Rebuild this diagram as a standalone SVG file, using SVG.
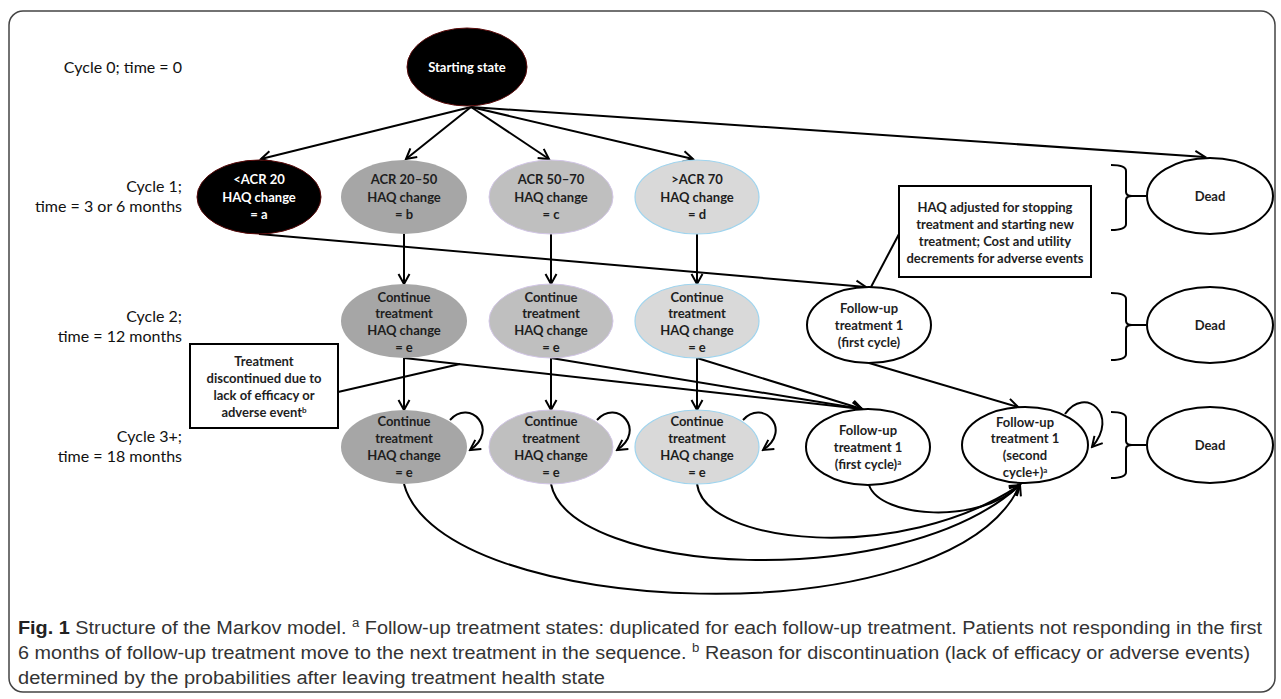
<svg xmlns="http://www.w3.org/2000/svg" width="1281" height="699" viewBox="0 0 1281 699">
<defs>
<marker id="arr" markerUnits="userSpaceOnUse" markerWidth="14" markerHeight="14" refX="12" refY="7" orient="auto">
<path d="M2,1.5 L12,7 L2,12.5" fill="none" stroke="#000" stroke-width="2"/>
</marker>
<style>
.lbl{font-family:Lato,'Liberation Sans',sans-serif;font-size:16px;fill:#111;text-anchor:end}
.t{font-family:Lato,'Liberation Sans',sans-serif;font-size:13px;font-weight:bold;text-anchor:middle;fill:#1e1e1e}
.w{fill:#fff}
.c{fill:none;stroke:#000;stroke-width:2}
.a{marker-end:url(#arr)}
.n0{fill:#000;stroke:#5a0a0a;stroke-width:1}
.n1{fill:#a6a6a6}
.n2{fill:#bfbfbf;stroke:#d2c6e6;stroke-width:1}
.n3{fill:#d9d9d9;stroke:#9fd4ee;stroke-width:1.2}
.nw{fill:#fff;stroke:#000;stroke-width:2}
.box{fill:#fff;stroke:#000;stroke-width:2}
.cap{font-family:'Liberation Sans Narrow','Liberation Sans',sans-serif;font-size:18px;fill:#333}
.sup{font-size:8px}
</style>
</defs>
<rect width="1281" height="699" fill="#fff"/>
<rect x="9" y="11" width="1266" height="681" rx="14" fill="none" stroke="#444" stroke-width="1.5"/>

<g id="row-labels">
<text class="lbl" x="182" y="73">Cycle 0; time = 0</text>
<text class="lbl" x="182" y="192">Cycle 1;</text>
<text class="lbl" x="182" y="212">time = 3 or 6 months</text>
<text class="lbl" x="182" y="322">Cycle 2;</text>
<text class="lbl" x="182" y="342">time = 12 months</text>
<text class="lbl" x="182" y="442">Cycle 3+;</text>
<text class="lbl" x="182" y="462">time = 18 months</text>
</g>

<g id="connectors">
<line class="c a" x1="471" y1="107" x2="261" y2="159"/>
<line class="c a" x1="471" y1="107" x2="406" y2="159"/>
<line class="c a" x1="471" y1="107" x2="549" y2="159"/>
<line class="c a" x1="471" y1="107" x2="693" y2="159"/>
<line class="c a" x1="471" y1="107" x2="1205" y2="157"/>
<line class="c a" x1="259" y1="234" x2="866" y2="287"/>
<line class="c a" x1="404" y1="234" x2="404" y2="284"/>
<line class="c a" x1="551" y1="234" x2="551" y2="284"/>
<line class="c a" x1="697" y1="234" x2="697" y2="284"/>
<line class="c a" x1="404" y1="358" x2="404" y2="410"/>
<line class="c a" x1="551" y1="358" x2="551" y2="410"/>
<line class="c a" x1="697" y1="358" x2="697" y2="410"/>
<line class="c a" x1="404" y1="358" x2="862" y2="409"/>
<line class="c a" x1="551" y1="358" x2="862" y2="409"/>
<line class="c a" x1="697" y1="358" x2="862" y2="409"/>
<line class="c a" x1="869" y1="363" x2="1018" y2="407"/>
<line class="c" x1="899" y1="234" x2="871" y2="287"/>
<line class="c" x1="338" y1="392" x2="460" y2="364"/>
<path class="c a" d="M450,420 C470,398 500,430 470,450"/>
<path class="c a" d="M597,420 C617,398 647,430 617,450"/>
<path class="c a" d="M743,420 C763,398 793,430 763,450"/>
<path class="c a" d="M1065,414 C1085,385 1120,415 1092,447"/>
<path class="c a" d="M404,484 C440,620 950,640 1020,485"/>
<path class="c a" d="M551,484 C570,575 900,595 1020,485"/>
<path class="c a" d="M697,484 C705,545 900,565 1020,485"/>
<path class="c a" d="M869,485 C880,518 980,525 1020,485"/>
<path class="c" d="M1111,165 Q1126,165 1126,171 L1126,192 Q1126,196 1132,196 L1146,196 M1132,196 Q1126,196 1126,200 L1126,224 Q1126,230 1111,230"/>
<path class="c" d="M1111,293 Q1126,293 1126,299 L1126,321 Q1126,325 1132,325 L1146,325 M1132,325 Q1126,325 1126,329 L1126,354 Q1126,360 1111,360"/>
<path class="c" d="M1111,412 Q1126,412 1126,418 L1126,441 Q1126,445 1132,445 L1146,445 M1132,445 Q1126,445 1126,449 L1126,472 Q1126,478 1111,478"/>
</g>

<g id="start">
<ellipse class="n0" cx="467" cy="67" rx="60" ry="39"/>
<text class="t w" x="467" y="72">Starting state</text>
</g>

<g id="acr-lt20">
<ellipse class="n0" cx="259" cy="197" rx="62" ry="37"/>
<text class="t w" x="259" y="184">&lt;ACR 20</text>
<text class="t w" x="259" y="202">HAQ change</text>
<text class="t w" x="259" y="219">= a</text>
</g>
<g id="acr-20-50">
<ellipse class="n1" cx="404" cy="197" rx="63" ry="37"/>
<text class="t" x="404" y="184">ACR 20–50</text>
<text class="t" x="404" y="202">HAQ change</text>
<text class="t" x="404" y="219">= b</text>
</g>
<g id="acr-50-70">
<ellipse class="n2" cx="551" cy="197" rx="62" ry="37"/>
<text class="t" x="551" y="184">ACR 50–70</text>
<text class="t" x="551" y="202">HAQ change</text>
<text class="t" x="551" y="219">= c</text>
</g>
<g id="acr-gt70">
<ellipse class="n3" cx="697" cy="197" rx="62" ry="37"/>
<text class="t" x="697" y="184">&gt;ACR 70</text>
<text class="t" x="697" y="202">HAQ change</text>
<text class="t" x="697" y="219">= d</text>
</g>

<g id="cont2-1">
<ellipse class="n1" cx="404" cy="321" rx="63" ry="37"/>
<text class="t" x="404" y="302">Continue</text>
<text class="t" x="404" y="318">treatment</text>
<text class="t" x="404" y="335">HAQ change</text>
<text class="t" x="404" y="352">= e</text>
</g>
<g id="cont2-2">
<ellipse class="n2" cx="551" cy="321" rx="62" ry="37"/>
<text class="t" x="551" y="302">Continue</text>
<text class="t" x="551" y="318">treatment</text>
<text class="t" x="551" y="335">HAQ change</text>
<text class="t" x="551" y="352">= e</text>
</g>
<g id="cont2-3">
<ellipse class="n3" cx="697" cy="321" rx="62" ry="37"/>
<text class="t" x="697" y="302">Continue</text>
<text class="t" x="697" y="318">treatment</text>
<text class="t" x="697" y="335">HAQ change</text>
<text class="t" x="697" y="352">= e</text>
</g>

<g id="cont3-1">
<ellipse class="n1" cx="404" cy="447" rx="63" ry="37"/>
<text class="t" x="404" y="426">Continue</text>
<text class="t" x="404" y="443">treatment</text>
<text class="t" x="404" y="460">HAQ change</text>
<text class="t" x="404" y="477">= e</text>
</g>
<g id="cont3-2">
<ellipse class="n2" cx="551" cy="447" rx="62" ry="37"/>
<text class="t" x="551" y="426">Continue</text>
<text class="t" x="551" y="443">treatment</text>
<text class="t" x="551" y="460">HAQ change</text>
<text class="t" x="551" y="477">= e</text>
</g>
<g id="cont3-3">
<ellipse class="n3" cx="697" cy="447" rx="62" ry="37"/>
<text class="t" x="697" y="426">Continue</text>
<text class="t" x="697" y="443">treatment</text>
<text class="t" x="697" y="460">HAQ change</text>
<text class="t" x="697" y="477">= e</text>
</g>

<g id="fu-c2">
<ellipse class="nw" cx="869" cy="325" rx="62" ry="38"/>
<text class="t" x="869" y="313">Follow-up</text>
<text class="t" x="869" y="330">treatment 1</text>
<text class="t" x="869" y="347">(first cycle)</text>
</g>
<g id="fu-first">
<ellipse class="nw" cx="868" cy="447" rx="62" ry="38"/>
<text class="t" x="868" y="435">Follow-up</text>
<text class="t" x="868" y="452">treatment 1</text>
<text class="t" x="868" y="469">(first cycle)<tspan class="sup" dy="-4">a</tspan></text>
</g>
<g id="fu-second">
<ellipse class="nw" cx="1025" cy="445" rx="63" ry="38"/>
<text class="t" x="1025" y="427">Follow-up</text>
<text class="t" x="1025" y="443">treatment 1</text>
<text class="t" x="1025" y="460">(second</text>
<text class="t" x="1025" y="477">cycle+)<tspan class="sup" dy="-4">a</tspan></text>
</g>

<g id="dead1">
<ellipse class="nw" cx="1210" cy="196" rx="63" ry="38"/>
<text class="t" x="1210" y="201">Dead</text>
</g>
<g id="dead2">
<ellipse class="nw" cx="1210" cy="325" rx="63" ry="38"/>
<text class="t" x="1210" y="330">Dead</text>
</g>
<g id="dead3">
<ellipse class="nw" cx="1210" cy="445" rx="63" ry="38"/>
<text class="t" x="1210" y="450">Dead</text>
</g>

<g id="note-haq">
<rect class="box" x="899" y="186" width="192" height="91"/>
<text class="t" x="995" y="212">HAQ adjusted for stopping</text>
<text class="t" x="995" y="229">treatment and starting new</text>
<text class="t" x="995" y="246">treatment; Cost and utility</text>
<text class="t" x="995" y="263">decrements for adverse events</text>
</g>
<g id="note-discontinued">
<rect class="box" x="190" y="344" width="148" height="84"/>
<text class="t" x="264" y="366">Treatment</text>
<text class="t" x="264" y="383">discontinued due to</text>
<text class="t" x="264" y="400">lack of efficacy or</text>
<text class="t" x="264" y="417">adverse event<tspan class="sup" dy="-4">b</tspan></text>
</g>

<g id="caption">
<text class="cap" x="18" y="634" textLength="1244" lengthAdjust="spacingAndGlyphs"><tspan font-weight="bold" fill="#222">Fig. 1</tspan> Structure of the Markov model. <tspan font-size="12" dy="-7">a</tspan><tspan dy="7"> Follow-up treatment states: duplicated for each follow-up treatment. Patients not responding in the first</tspan></text>
<text class="cap" x="18" y="659" textLength="1232" lengthAdjust="spacingAndGlyphs">6 months of follow-up treatment move to the next treatment in the sequence. <tspan font-size="12" dy="-7">b</tspan><tspan dy="7"> Reason for discontinuation (lack of efficacy or adverse events)</tspan></text>
<text class="cap" x="18" y="684" textLength="587" lengthAdjust="spacingAndGlyphs">determined by the probabilities after leaving treatment health state</text>
</g>
</svg>
